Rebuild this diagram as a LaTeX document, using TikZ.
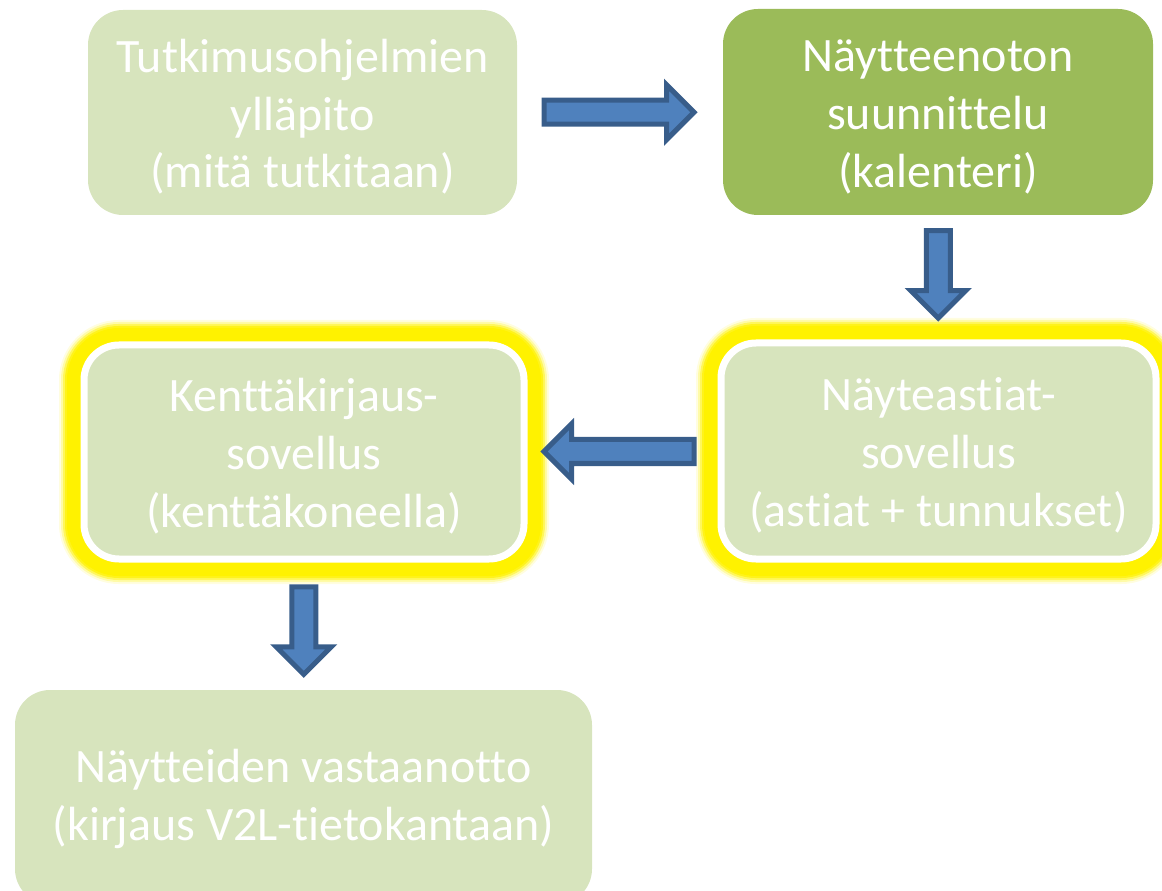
\documentclass[tikz,border=0pt]{standalone}
\usepackage{fontspec}
\setmainfont{Carlito}[Ligatures=NoCommon]
\usetikzlibrary{shapes.arrows,calc}

\definecolor{paleGreen}{HTML}{D7E4BD}
\definecolor{oliveGreen}{HTML}{9BBB59}
\definecolor{arrowBlue}{HTML}{4F81BD}
\definecolor{arrowEdge}{HTML}{385D8A}

\tikzset{
    box/.style={rectangle, rounded corners=0.7cm, align=center, text=white,
        font=\fontsize{27.3}{33}\selectfont, inner sep=0pt},
    threeLines/.style={text height=3.32cm, text depth=0.3cm},
    twoLines/.style={text height=2.02cm, text depth=0.3cm},
    paleBox/.style={box, fill=paleGreen},
    darkBox/.style={box, fill=oliveGreen},
    glowBox/.style={box, fill=paleGreen, draw=white, line width=0.14cm,
        preaction={draw=yellow, draw opacity=0.12, line width=1.0cm},
        preaction={draw=yellow, draw opacity=0.25, line width=0.92cm},
        preaction={draw=yellow, draw opacity=0.45, line width=0.84cm},
        preaction={draw=yellow, draw opacity=0.7, line width=0.76cm},
        preaction={draw=yellow, line width=0.68cm}},
    blockArrow/.style={single arrow, fill=arrowBlue, draw=arrowEdge, line width=0.1cm,
        inner sep=0.19cm, minimum width=1cm, single arrow head extend=0.31cm}
}

\begin{document}
\begin{tikzpicture}
    \useasboundingbox (0, 0) rectangle (23.24, -17.82);

    % Boxes
    \node[paleBox, threeLines, minimum width=8.58cm, minimum height=4.1cm] (ohjelmat) at (6.05, -2.25)
        {Tutkimusohjelmien\\ylläpito\\(mitä tutkitaan)};
    \node[darkBox, threeLines, minimum width=8.6cm, minimum height=4.12cm] (suunnittelu) at (18.76, -2.24)
        {Näytteenoton\\suunnittelu\\(kalenteri)};
    \node[glowBox, threeLines, minimum width=8.7cm, minimum height=4.32cm] (astiat) at (18.77, -9.02)
        {Näyteastiat-\\sovellus\\(astiat + tunnukset)};
    \node[glowBox, threeLines, minimum width=8.8cm, minimum height=4.28cm] (kentta) at (6.08, -9.04)
        {Kenttäkirjaus-\\sovellus\\(kenttäkoneella)};
    \node[paleBox, twoLines, minimum width=11.54cm, minimum height=4.28cm] (vastaanotto) at (6.07, -15.94)
        {Näytteiden vastaanotto\\(kirjaus V2L-tietokantaan)};

    % Arrows between the boxes
    \node[blockArrow, minimum height=3cm] (nuoli1) at ($(ohjelmat.east)!0.5!(suunnittelu.west) + (-0.14, 0)$) {};
    \node[blockArrow, minimum height=1.75cm, rotate=-90] (nuoli2) at ($(suunnittelu.south)!0.5!(astiat.north) + (0, 0.18)$) {};
    \node[blockArrow, minimum height=3cm, rotate=180] (nuoli3) at ($(astiat.west)!0.5!(kentta.east) + (0.05, 0)$) {};
    \node[blockArrow, minimum height=1.75cm, rotate=-90] (nuoli4) at ($(kentta.south)!0.5!(vastaanotto.north) + (0, 0.03)$) {};
\end{tikzpicture}
\end{document}
